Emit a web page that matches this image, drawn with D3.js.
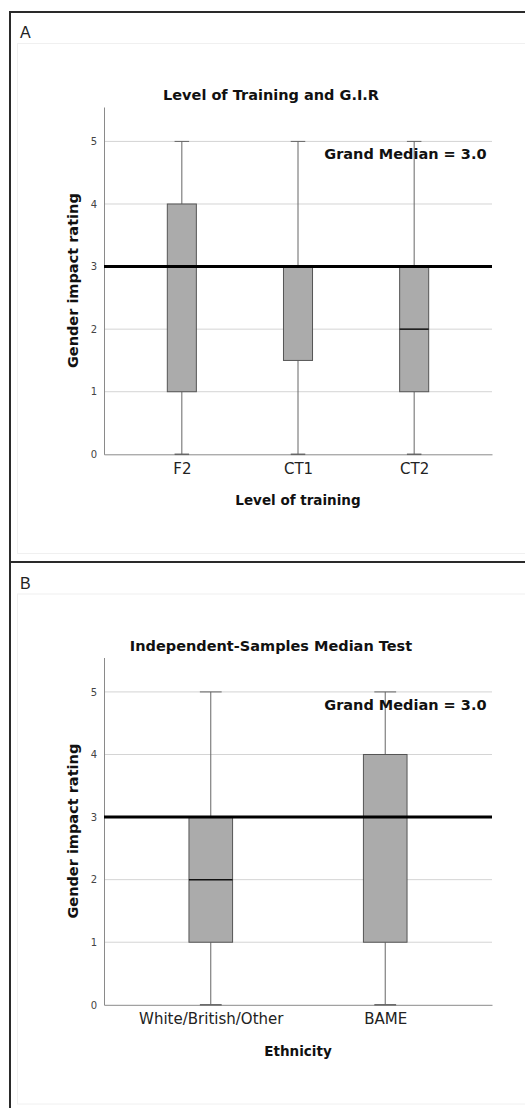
<!DOCTYPE html>
<html>
<head>
<meta charset="utf-8">
<script src="https://cdn.jsdelivr.net/npm/d3@7"></script>
<style>
  html, body { margin: 0; padding: 0; background: #fff; }
  svg { display: block; }
</style>
</head>
<body>
<svg id="chart" width="525" height="1108"></svg>
<script>
// ---- Data ----
const yTicks = [0, 1, 2, 3, 4, 5];
const grandMedian = 3.0;

const aTitle = "Level of Training and G.I.R";
const aXTitle = "Level of training";
const aCategories = ["F2", "CT1", "CT2"];
const aMin    = [0, 0, 0];
const aQ1     = [1, 1.5, 1];
const aMedian = [3, 3, 2];
const aQ3     = [4, 3, 3];
const aMax    = [5, 5, 5];

const bTitle = "Independent-Samples Median Test";
const bXTitle = "Ethnicity";
const bCategories = ["White/British/Other", "BAME"];
const bMin    = [0, 0];
const bQ1     = [1, 1];
const bMedian = [2, 3];
const bQ3     = [3, 4];
const bMax    = [5, 5];

const yTitle = "Gender impact rating";

// ---- Layout ----
const svg = d3.select("#chart");
const font = "'DejaVu Sans', sans-serif";

// outer frame
svg.append("rect").attr("x", 10).attr("y", 12).attr("width", 530).attr("height", 1110)
  .attr("fill", "none").attr("stroke", "#2a2a2a").attr("stroke-width", 2);
svg.append("line").attr("x1", 10).attr("x2", 525).attr("y1", 562).attr("y2", 562)
  .attr("stroke", "#2a2a2a").attr("stroke-width", 2);

function panel(offsetY, label, title, xTitle, cats, mins, q1s, meds, q3s, maxs, pad) {
  const g = svg.append("g").attr("transform", `translate(0,${offsetY})`);
  // faint inner panel
  g.append("rect").attr("x", 17.5).attr("y", label === "A" ? 43.5 : 43.5).attr("width", 520).attr("height", 510)
    .attr("fill", "none").attr("stroke", "#f0f0f0").attr("stroke-width", 1);

  g.append("text").attr("x", 20).attr("y", 38).attr("font-family", "'Liberation Sans', Arial, sans-serif")
    .attr("font-size", 16).attr("fill", "#222").text(label);

  const left = 104, right = 492, top = 107, bottom = 454.3;
  const y = d3.scaleLinear().domain([0, 5.55]).range([bottom, top]);
  const x = d3.scalePoint().domain(cats).range([left, right]).padding(pad);
  const step = x.step();
  const boxW = step * 0.25;
  const capW = boxW * 0.5;

  // gridlines
  g.append("g").selectAll("line").data(yTicks.filter(d => d > 0)).join("line")
    .attr("x1", left).attr("x2", right)
    .attr("y1", d => y(d)).attr("y2", d => y(d))
    .attr("stroke", "#d4d4d4").attr("stroke-width", 1);

  // y axis
  const yAxis = g.append("g").attr("transform", `translate(${left},0)`)
    .call(d3.axisLeft(y).tickValues(yTicks).tickSize(0).tickPadding(7).tickFormat(d3.format("d")));
  yAxis.select(".domain").attr("stroke", "#8a8a8a");
  yAxis.selectAll("text").attr("font-family", font).attr("font-size", 10).attr("fill", "#444");

  // x axis
  const xAxis = g.append("g").attr("transform", `translate(0,${bottom})`)
    .call(d3.axisBottom(x).tickSize(0).tickPadding(9));
  xAxis.select(".domain").attr("stroke", "#8a8a8a");
  xAxis.selectAll("text").attr("font-family", font).attr("font-size", 15).attr("fill", "#222");

  const data = cats.map((c, i) => ({ c, min: mins[i], q1: q1s[i], med: meds[i], q3: q3s[i], max: maxs[i] }));
  const bx = g.append("g");
  const whiskerColor = "#666";
  // whiskers
  bx.selectAll(".wu").data(data).join("line")
    .attr("x1", d => x(d.c)).attr("x2", d => x(d.c))
    .attr("y1", d => y(d.q3)).attr("y2", d => y(d.max))
    .attr("stroke", whiskerColor).attr("stroke-width", 1);
  bx.selectAll(".wl").data(data).join("line")
    .attr("x1", d => x(d.c)).attr("x2", d => x(d.c))
    .attr("y1", d => y(d.q1)).attr("y2", d => y(d.min))
    .attr("stroke", whiskerColor).attr("stroke-width", 1);
  bx.selectAll(".cu").data(data).join("line")
    .attr("x1", d => x(d.c) - capW / 2).attr("x2", d => x(d.c) + capW / 2)
    .attr("y1", d => y(d.max)).attr("y2", d => y(d.max))
    .attr("stroke", whiskerColor).attr("stroke-width", 1);
  bx.selectAll(".cl").data(data).join("line")
    .attr("x1", d => x(d.c) - capW / 2).attr("x2", d => x(d.c) + capW / 2)
    .attr("y1", d => y(d.min)).attr("y2", d => y(d.min))
    .attr("stroke", whiskerColor).attr("stroke-width", 1.5);
  // boxes
  bx.selectAll(".box").data(data).join("rect")
    .attr("x", d => x(d.c) - boxW / 2).attr("width", boxW)
    .attr("y", d => y(d.q3)).attr("height", d => y(d.q1) - y(d.q3))
    .attr("fill", "#ababab").attr("stroke", "#555").attr("stroke-width", 1);
  // medians
  bx.selectAll(".med").data(data).join("line")
    .attr("x1", d => x(d.c) - boxW / 2).attr("x2", d => x(d.c) + boxW / 2)
    .attr("y1", d => y(d.med)).attr("y2", d => y(d.med))
    .attr("stroke", "#111").attr("stroke-width", 1.5);

  // grand median line
  g.append("line").attr("x1", left).attr("x2", right)
    .attr("y1", y(grandMedian)).attr("y2", y(grandMedian))
    .attr("stroke", "#000").attr("stroke-width", 3);

  g.append("text").attr("x", 486.5).attr("y", y(5) + 18).attr("text-anchor", "end")
    .attr("font-family", font).attr("font-weight", "bold").attr("font-size", 14.5).attr("fill", "#111")
    .text("Grand Median = " + d3.format(".1f")(grandMedian));

  // titles
  g.append("text").attr("x", 271).attr("y", y(5) - 41).attr("text-anchor", "middle")
    .attr("font-family", font).attr("font-weight", "bold").attr("font-size", 14.5).attr("fill", "#111")
    .text(title);
  g.append("text").attr("x", (left + right) / 2).attr("y", bottom + 51).attr("text-anchor", "middle")
    .attr("font-family", font).attr("font-weight", "bold").attr("font-size", 13.5).attr("fill", "#111")
    .text(xTitle);
  g.append("text").attr("transform", `translate(78,${(top + bottom) / 2}) rotate(-90)`)
    .attr("text-anchor", "middle")
    .attr("font-family", font).attr("font-weight", "bold").attr("font-size", 14.5).attr("fill", "#111")
    .text(yTitle);
}

panel(0, "A", aTitle, aXTitle, aCategories, aMin, aQ1, aMedian, aQ3, aMax, 0.67);
panel(550.5, "B", bTitle, bXTitle, bCategories, bMin, bQ1, bMedian, bQ3, bMax, 0.612);
</script>
</body>
</html>
